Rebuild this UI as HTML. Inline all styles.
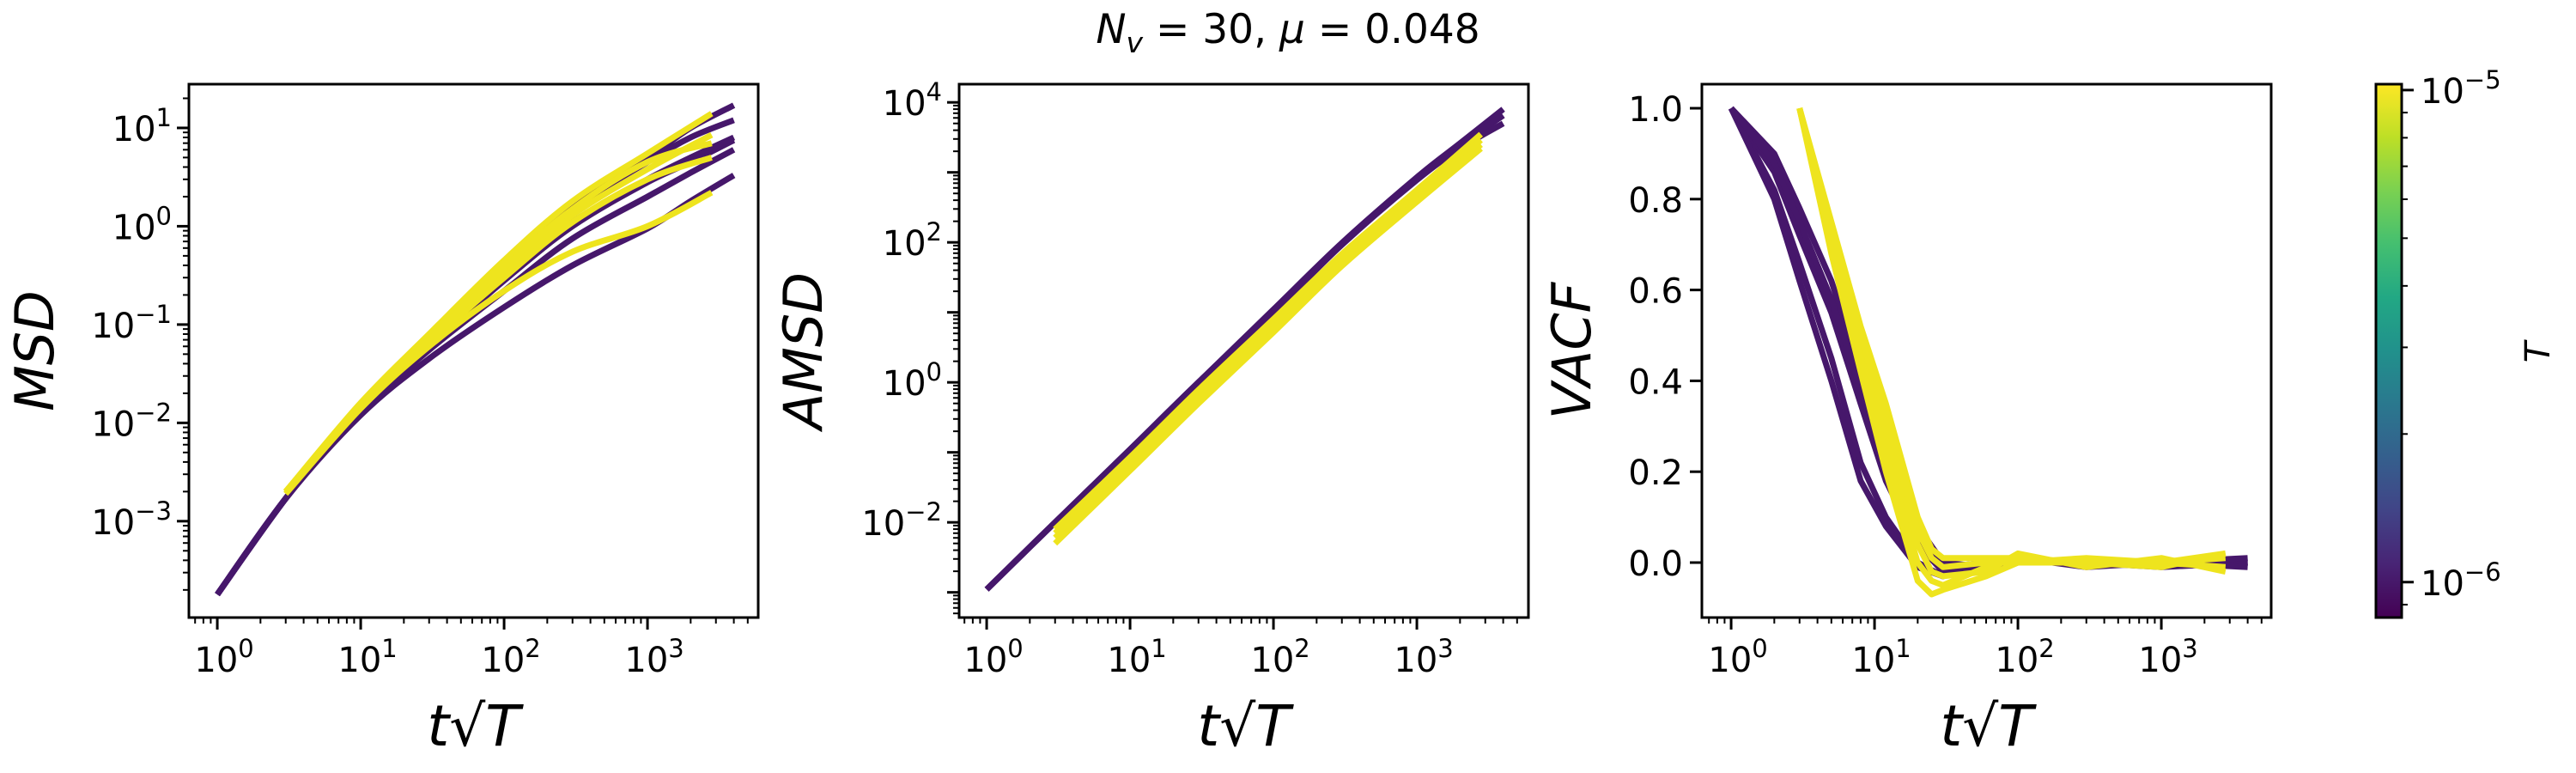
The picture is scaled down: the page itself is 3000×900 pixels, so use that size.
<!DOCTYPE html>
<html><head><meta charset="utf-8">
<style>
html,body{margin:0;padding:0;background:#fff;}
svg{display:block;}
text{font-family:"DejaVu Sans","Liberation Sans",sans-serif;fill:#000;}
</style></head>
<body>
<svg id="fig" width="3000" height="900" viewBox="0 0 3000 900" xmlns="http://www.w3.org/2000/svg">
<defs>
<linearGradient id="viridis" x1="0" y1="1" x2="0" y2="0">
<stop offset="0" stop-color="#440154"/><stop offset="0.1" stop-color="#482475"/>
<stop offset="0.2" stop-color="#414487"/><stop offset="0.3" stop-color="#355f8d"/>
<stop offset="0.4" stop-color="#2a788e"/><stop offset="0.5" stop-color="#21918c"/>
<stop offset="0.6" stop-color="#22a884"/><stop offset="0.7" stop-color="#44bf70"/>
<stop offset="0.8" stop-color="#7ad151"/><stop offset="0.9" stop-color="#bddf26"/>
<stop offset="1" stop-color="#fde725"/>
</linearGradient>
</defs>
<text x="1500" y="50" text-anchor="middle" font-size="47"><tspan font-style="italic">N</tspan><tspan font-style="italic" font-size="33" dy="11">v</tspan><tspan dy="-11"> = 30, </tspan><tspan font-style="italic">μ</tspan><tspan> = 0.048</tspan></text>
</svg>
<script>
// ---------- data ----------
const PURPLE = '#46176b', YELLOW = '#eee41e';
// MSD
const msdPurpleX = [1,3,10,30,100,300,1000,2000,4000];
const msdPurple = [
 [1.8e-4,1.7e-3,1.2e-2,4.5e-2,0.15,0.4,0.95,1.8,3.3],
 [1.8e-4,1.7e-3,1.3e-2,5.5e-2,0.22,0.75,2.0,3.5,6],
 [1.8e-4,1.7e-3,1.4e-2,6.0e-2,0.28,1.0,2.8,4.5,7.5],
 [1.8e-4,1.7e-3,1.4e-2,6.5e-2,0.30,1.1,3.0,5.0,8],
 [1.8e-4,1.7e-3,1.5e-2,7.0e-2,0.38,1.5,4.5,8.0,12],
 [1.8e-4,1.7e-3,1.5e-2,7.5e-2,0.42,1.7,5.0,10,17]
];
const msdYellowX = [3,10,30,100,300,1000,2800];
const msdYellow = [
 [2.0e-3,1.6e-2,8.0e-2,0.45,1.8,5.5,14],
 [2.0e-3,1.5e-2,7.0e-2,0.35,1.3,3.8,8.5],
 [2.0e-3,1.5e-2,6.5e-2,0.30,1.1,3.0,5],
 [1.9e-3,1.4e-2,6.0e-2,0.22,0.55,1.0,2.2],
 [2.0e-3,1.5e-2,7.0e-2,0.38,1.5,4.5,7]
];
// AMSD
const amsdPurpleX = [1,3,10,30,100,300,1000,2000,4000];
const amsdPurple = [
 [1.1e-3,1.0e-2,0.11,1.0,11,98,850,2600,8000],
 [1.1e-3,1.0e-2,0.11,1.0,10.5,95,800,2400,6500],
 [1.1e-3,1.0e-2,0.11,1.0,10,92,780,2200,5000]
];
const amsdYellowX = [3,10,30,100,300,1000,2800];
const amsdYellow = [
 [8.0e-3,8.5e-2,0.78,8.0,68,560,3500],
 [7.0e-3,7.5e-2,0.68,7.0,60,480,2900],
 [6.0e-3,6.5e-2,0.58,6.0,52,420,2500],
 [5.0e-3,5.5e-2,0.50,5.2,46,380,2200]
];
// VACF
const vacfPurpleX = [1,2,3,5,8,12,20,30,60,100,300,1000,4000];
const vacfPurple = [
 [1,0.90,0.78,0.62,0.42,0.25,0.08,0.00,-0.01,0.00,0.00,0.00,0.00],
 [1,0.86,0.72,0.55,0.35,0.18,0.04,-0.02,-0.01,0.01,-0.01,0.00,0.00],
 [1,0.82,0.66,0.45,0.22,0.10,0.00,-0.03,0.00,0.00,0.00,-0.01,0.00],
 [1,0.80,0.62,0.40,0.18,0.08,-0.01,-0.03,0.00,0.00,0.00,0.00,0.01],
 [1,0.88,0.75,0.58,0.38,0.21,0.05,-0.01,0.00,0.00,0.00,0.00,-0.01]
];
const vacfYellowX = [3,5,8,12,20,25,30,60,100,300,1000,2800];
const vacfYellow = [
 [1,0.75,0.52,0.35,0.10,0.03,0.01,0.01,0.01,0.00,0.00,0.02],
 [1,0.72,0.48,0.28,0.04,-0.02,-0.03,-0.02,0.02,-0.01,0.01,-0.02],
 [1,0.68,0.42,0.20,-0.04,-0.07,-0.06,-0.03,0.00,0.00,0.00,0.01],
 [1,0.70,0.45,0.24,0.00,-0.04,-0.05,-0.01,0.01,0.00,-0.01,0.02],
 [1,0.74,0.50,0.32,0.07,0.01,-0.01,0.00,0.00,0.01,0.00,-0.01]
];
const xTickExps = [0,1,2,3];
const msdTickExps = [-3,-2,-1,0,1];
const amsdTickExps = [-2,0,2,4];
const vacfTicks = [0.0,0.2,0.4,0.6,0.8,1.0];
const cbarTickExps = [-6,-5];

// ---------- drawing ----------
const svg = document.getElementById('fig');
const NS = 'http://www.w3.org/2000/svg';
function el(tag, attrs, parent){
  const e = document.createElementNS(NS, tag);
  for (const k in attrs) e.setAttribute(k, attrs[k]);
  (parent||svg).appendChild(e);
  return e;
}
const TOP = 98, BOT = 719;
function powLabel(g, x, y, exp, anchor){
  const t = el('text', {x:x, y:y, 'font-size':40, 'text-anchor':anchor}, g);
  const a = document.createElementNS(NS,'tspan'); a.textContent='10'; t.appendChild(a);
  const b = document.createElementNS(NS,'tspan'); b.setAttribute('dy','-17'); b.setAttribute('font-size','29');
  b.textContent = exp < 0 ? '\u2212' + (-exp) : String(exp); t.appendChild(b);
  return t;
}
function panel(name, L, R, xmin, xmax, ylog, ymin, ymax, ylabel, ylabelX){
  const g = el('g', {});
  
  
  const sx = v => L + (Math.log10(v) - xmin) / (xmax - xmin) * (R - L);
  const sy = ylog ? (v => BOT - (Math.log10(v) - ymin) / (ymax - ymin) * (BOT - TOP))
                  : (v => BOT - (v - ymin) / (ymax - ymin) * (BOT - TOP));
  const clip = el('clipPath', {id:'clip-'+name}, g);
  el('rect', {x:L, y:TOP, width:R-L, height:BOT-TOP}, clip);
  const lines = el('g', {'clip-path':'url(#clip-'+name+')'}, g);
  for (let d = Math.floor(xmin); d <= Math.ceil(xmax); d++){
    for (let m = 1; m <= 9; m++){
      const lv = d + Math.log10(m);
      if (lv < xmin || lv > xmax) continue;
      const x = sx(Math.pow(10, lv));
      el('line', {x1:x, x2:x, y1:BOT, y2:BOT + (m===1?14:7), stroke:'#000', 'stroke-width':m===1?3:2}, g);
    }
  }
  xTickExps.forEach(e => {
    const t = powLabel(g, sx(Math.pow(10,e)) + 8, 782, e, 'middle');
    
    
  });
  const xl = el('text', {x:(L+R)/2, y:868, 'font-size':66, 'text-anchor':'middle', 'font-style':'italic'}, g);
  xl.textContent = 't\u221AT';
  
  
  if (ylog){
    for (let d = Math.floor(ymin); d <= Math.ceil(ymax); d++){
      for (let m = 1; m <= 9; m++){
        const lv = d + Math.log10(m);
        if (lv < ymin || lv > ymax) continue;
        const y = sy(Math.pow(10, lv));
        el('line', {x1:L, x2:L - (m===1?14:7), y1:y, y2:y, stroke:'#000', 'stroke-width':m===1?3:2}, g);
      }
    }
    (name==='msd'?msdTickExps:amsdTickExps).forEach(e => {
      const t = powLabel(g, L - 20, sy(Math.pow(10,e)) + 15, e, 'end');
      
      
    });
  } else {
    vacfTicks.forEach(v => {
      const y = sy(v);
      el('line', {x1:L, x2:L-14, y1:y, y2:y, stroke:'#000', 'stroke-width':3}, g);
      const t = el('text', {x:L-22, y:y+15, 'font-size':40, 'text-anchor':'end'}, g);
      t.textContent = v.toFixed(1);
      
      
    });
  }
  const yl = el('text', {x:ylabelX, y:(TOP+BOT)/2, 'font-size':62, 'text-anchor':'middle', 'font-style':'italic',
    transform:'rotate(-90 '+ylabelX+' '+(TOP+BOT)/2+')', 'dominant-baseline':'middle'}, g);
  yl.textContent = ylabel;
  
  
  el('rect', {x:L, y:TOP, width:R-L, height:BOT-TOP, fill:'none', stroke:'#000', 'stroke-width':3}, g);
  return {lines, sx, sy};
}
function smoothPath(pts){
  let d = 'M' + pts[0][0].toFixed(1) + ' ' + pts[0][1].toFixed(1);
  for (let i = 0; i < pts.length - 1; i++){
    const p0 = pts[Math.max(0,i-1)], p1 = pts[i], p2 = pts[i+1], p3 = pts[Math.min(pts.length-1,i+2)];
    const c1x = p1[0] + (p2[0]-p0[0])/6, c1y = p1[1] + (p2[1]-p0[1])/6;
    const c2x = p2[0] - (p3[0]-p1[0])/6, c2y = p2[1] - (p3[1]-p1[1])/6;
    d += ' C' + c1x.toFixed(1)+' '+c1y.toFixed(1)+' '+c2x.toFixed(1)+' '+c2y.toFixed(1)+' '+p2[0].toFixed(1)+' '+p2[1].toFixed(1);
  }
  return d;
}
function drawSeries(p, xs, series, color, nm, smooth){
  series.forEach(ys => {
    const pts = xs.map((x,i) => [p.sx(x), p.sy(ys[i])]);
    const d = smooth ? smoothPath(pts) : pts.map((q,i) => (i?'L':'M') + q[0].toFixed(1) + ' ' + q[1].toFixed(1)).join(' ');
    const path = el('path', {d:d, fill:'none', stroke:color, 'stroke-width':7, 'stroke-linejoin':'round'}, p.lines);
    
    
  });
}
const pMsd = panel('msd', 220, 883, -0.198, 3.772, true, -3.98, 1.445, 'MSD', 45);
drawSeries(pMsd, msdPurpleX, msdPurple, PURPLE, 'msd-line-low-t', true);
drawSeries(pMsd, msdYellowX, msdYellow, YELLOW, 'msd-line-high-t', true);
const pAmsd = panel('amsd', 1117, 1780, -0.192, 3.778, true, -3.36, 4.26, 'AMSD', 940);
drawSeries(pAmsd, amsdPurpleX, amsdPurple, PURPLE, 'amsd-line-low-t', true);
drawSeries(pAmsd, amsdYellowX, amsdYellow, YELLOW, 'amsd-line-high-t', true);
const pVacf = panel('vacf', 1982, 2645, -0.204, 3.766, false, -0.121, 1.053, 'VACF', 1835);
drawSeries(pVacf, vacfPurpleX, vacfPurple, PURPLE, 'vacf-line-low-t', false);
drawSeries(pVacf, vacfYellowX, vacfYellow, YELLOW, 'vacf-line-high-t', false);

// colorbar
const cg = el('g', {});


const CL = 2767, CR = 2797, cmin = -6.072, cmax = -4.988;
const cy = lv => BOT - (lv - cmin) / (cmax - cmin) * (BOT - TOP);
el('rect', {x:CL, y:TOP, width:CR-CL, height:BOT-TOP, fill:'url(#viridis)', stroke:'#000', 'stroke-width':3}, cg);
for (let d = -7; d <= -5; d++){
  for (let m = 1; m <= 9; m++){
    const lv = d + Math.log10(m);
    if (lv < cmin || lv > cmax) continue;
    const y = cy(lv);
    el('line', {x1:CR, x2:CR + (m===1?14:7), y1:y, y2:y, stroke:'#000', 'stroke-width':m===1?3:2}, cg);
  }
}
cbarTickExps.forEach(e => {
  const t = powLabel(cg, CR + 22, cy(e) + 15, e, 'start');
  
  
});
const ct = el('text', {x:2958, y:410, 'font-size':40, 'font-style':'italic', 'text-anchor':'middle',
  transform:'rotate(-90 2958 410)', 'dominant-baseline':'middle'}, cg);
ct.textContent = 'T';


</script>
</body></html>
